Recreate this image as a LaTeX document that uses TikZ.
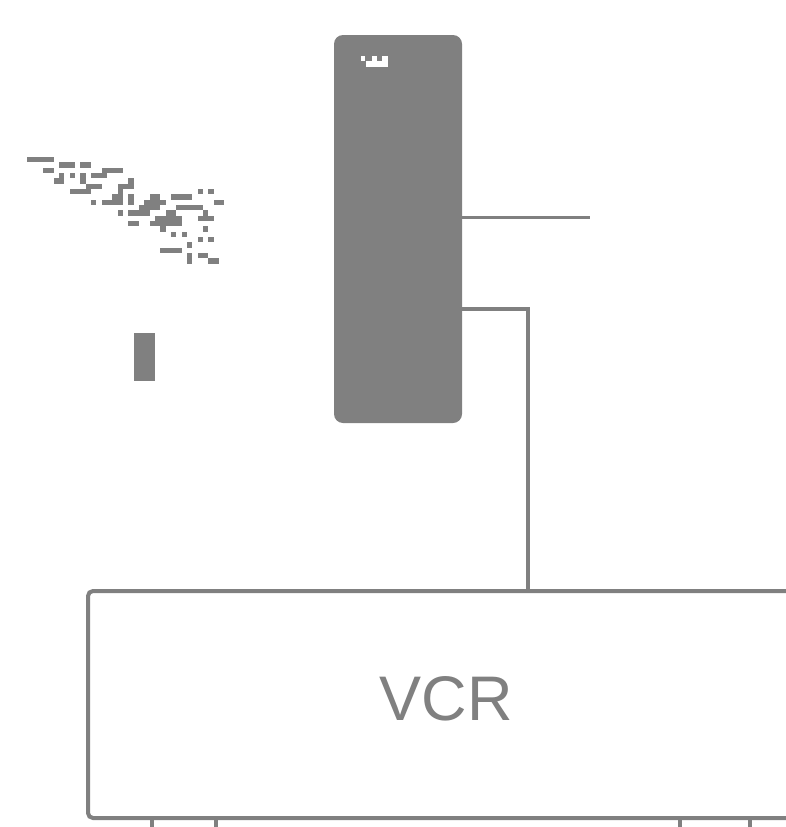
\documentclass[tikz,border=0pt]{standalone}
\usepackage{fontspec}
\setmainfont{Liberation Sans}
\definecolor{dg}{HTML}{808080}
\newcommand{\zr}[3]{\fill[dg] ({#1/3},{130+(#3-8)/3}) rectangle ({#2/3},{130+(#3+8)/3});}
\tikzset{
  wire/.style={draw=dg,line width=3.6pt},
  tick/.style={draw=dg,line width=3.6pt},
  tallbox/.style={draw=none,fill=dg,rounded corners=9pt,minimum width=128pt,minimum height=388pt,inner sep=0pt,outer sep=0pt},
  solidbar/.style={draw=none,fill=dg,minimum width=21.5pt,minimum height=48pt,inner sep=0pt,outer sep=0pt},
  vcrbox/.style={draw=dg,line width=4pt,fill=white,rounded corners=5pt,minimum width=716pt,minimum height=227pt,inner sep=0pt,outer sep=0pt,text=dg,font=\fontsize{63}{63}\selectfont}
}
\begin{document}
\begin{tikzpicture}[x=1pt,y=-1pt]
\useasboundingbox (0,0) rectangle (786,827);
\clip (0,0) rectangle (786,827);
\fill[white] (0,0) rectangle (786,827);
% pixel scatter
\zr{81}{161}{89}\zr{177}{225}{105}\zr{241}{273}{105}
\zr{129}{161}{121}\zr{305}{369}{121}
\zr{177}{193}{137}\zr{209}{225}{137}\zr{241}{257}{137}\zr{273}{321}{137}
\zr{161}{193}{153}\zr{241}{257}{153}\zr{385}{401}{153}
\zr{257}{305}{169}\zr{353}{401}{169}
\zr{209}{273}{185}\zr{353}{369}{185}\zr{593}{609}{185}\zr{625}{641}{185}
\zr{337}{369}{201}\zr{385}{401}{201}\zr{449}{481}{201}\zr{513}{577}{201}
\zr{273}{289}{217}\zr{305}{369}{217}\zr{385}{401}{217}\zr{433}{497}{217}\zr{641}{673}{217}
\zr{417}{481}{233}\zr{529}{609}{233}
\zr{353}{369}{249}\zr{385}{449}{249}\zr{497}{529}{249}\zr{609}{625}{249}
\zr{465}{545}{265}\zr{593}{641}{265}
\zr{385}{417}{281}\zr{449}{529}{281}\zr{529}{545}{281}
\zr{481}{497}{297}\zr{609}{625}{297}
\zr{513}{529}{313}\zr{545}{561}{313}
\zr{593}{609}{329}\zr{625}{641}{329}
\zr{561}{577}{345}
\zr{481}{545}{361}
\zr{561}{577}{377}\zr{593}{625}{377}
\zr{561}{577}{393}\zr{625}{657}{393}
% nodes
\node[solidbar] (bar) at (144.5,357) {};
\node[tallbox] (tall) at (398,229) {};
\node[vcrbox] (vcr) at (446,704.5) {\raisebox{12pt}{VCR}};
% white mark on the tall box
\fill[white] (360.5,56) rectangle (365,61);
\fill[white] (366,61) rectangle (388,66.5);
\fill[white] (371.5,56) rectangle (376.5,61);
\fill[white] (382,56) rectangle (388,61);
% connectors
\coordinate (endA) at (590,217.5);
\coordinate (bendB) at (528,309);
\draw[wire] (tall.east |- endA) -- (endA);
\draw[wire] (tall.east |- bendB) -- (bendB) -- (bendB |- vcr.north);
\coordinate (t1) at (152,830);
\coordinate (t2) at (216,830);
\coordinate (t3) at (680,830);
\coordinate (t4) at (750,830);
\draw[tick] (t1 |- vcr.south) -- (t1);
\draw[tick] (t2 |- vcr.south) -- (t2);
\draw[tick] (t3 |- vcr.south) -- (t3);
\draw[tick] (t4 |- vcr.south) -- (t4);
\end{tikzpicture}
\end{document}
